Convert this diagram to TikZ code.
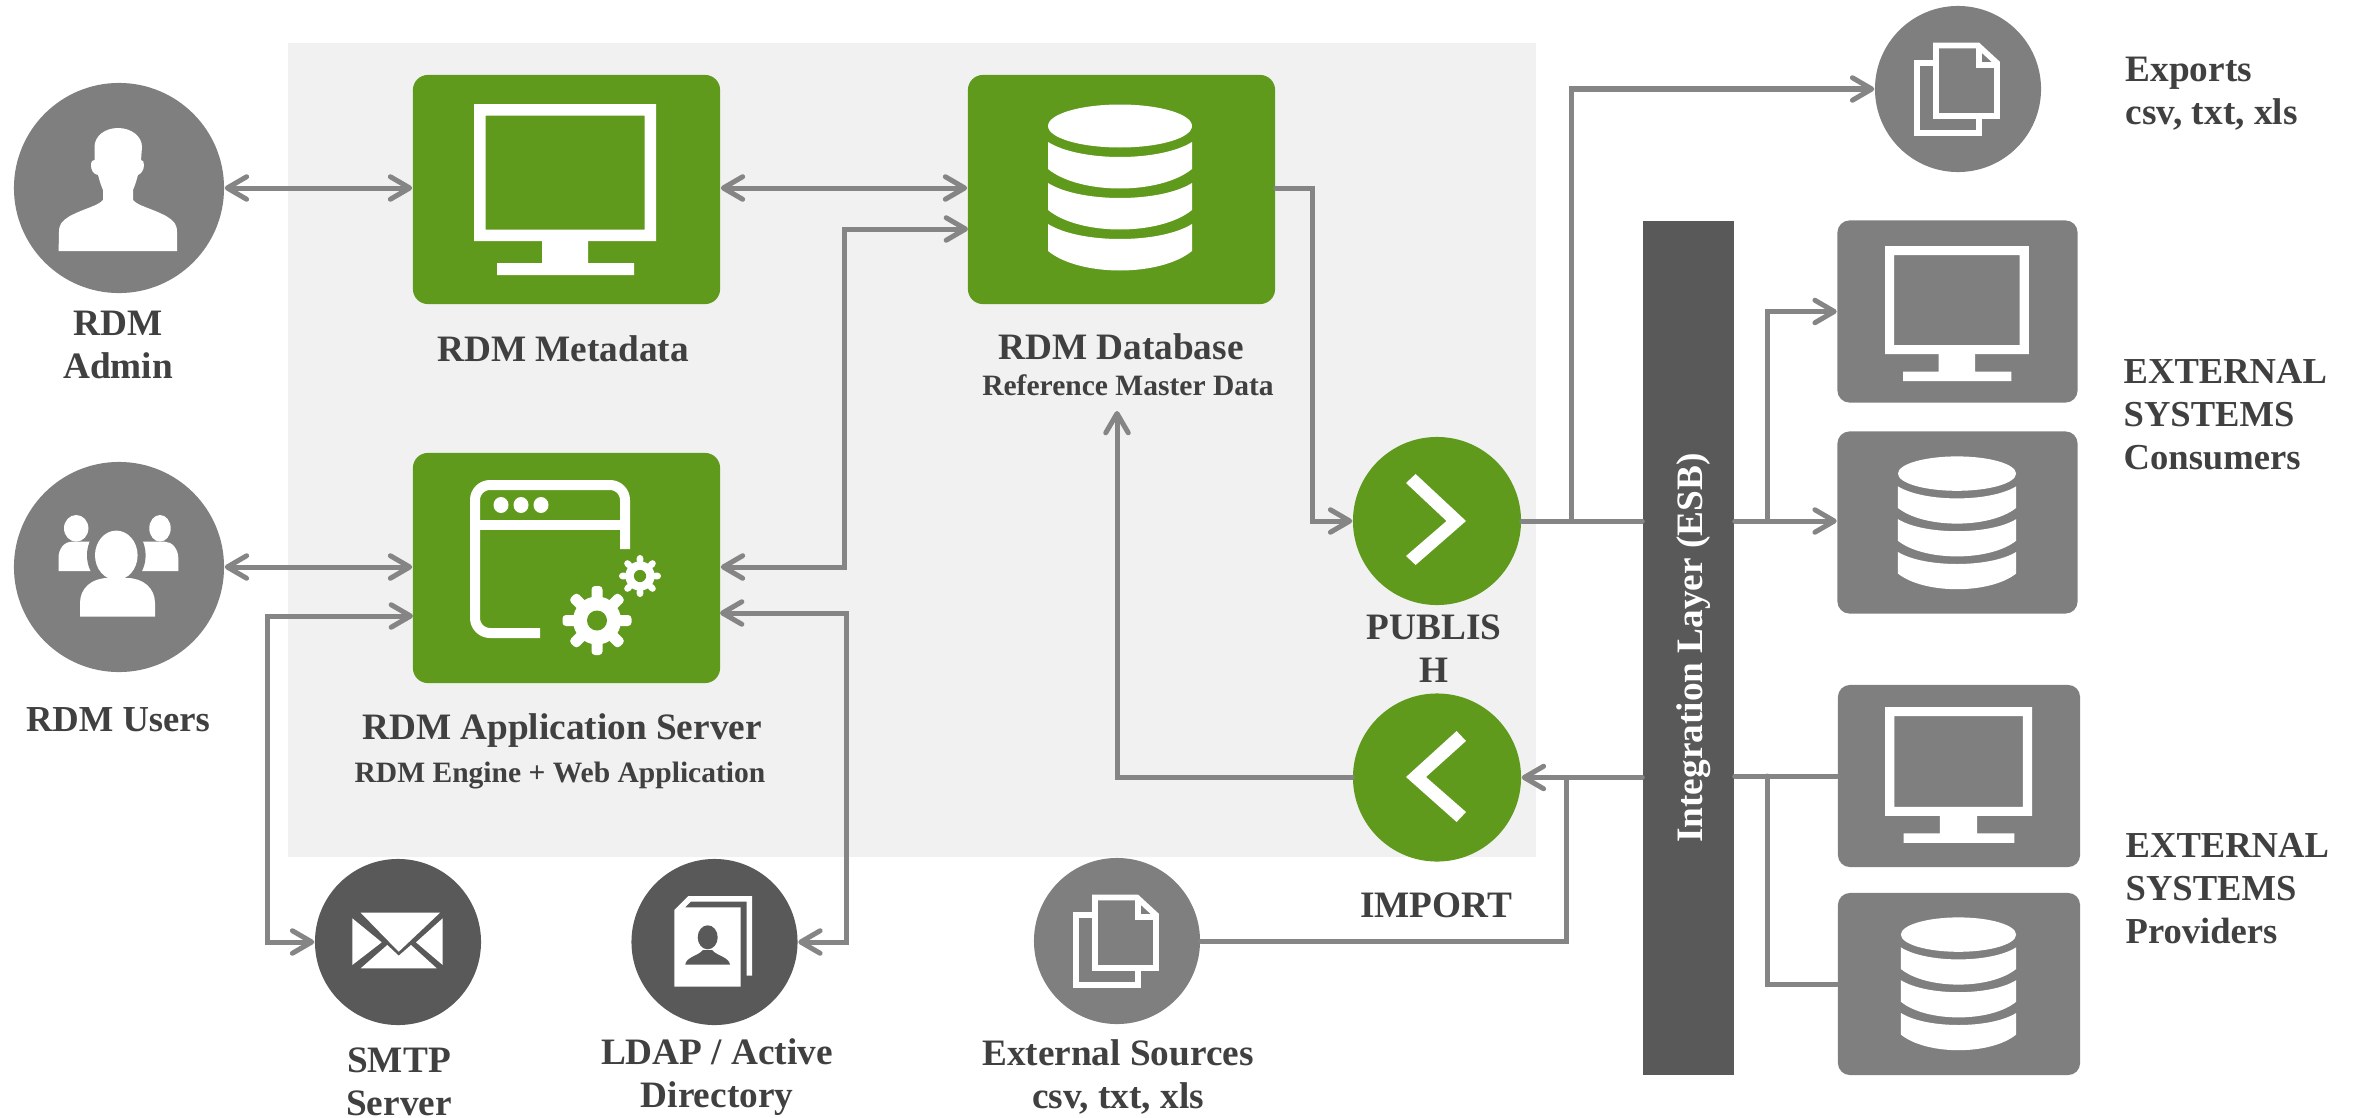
\documentclass[tikz,border=0pt]{standalone}
\usepackage{fontspec}
\usepackage{tikz}
\usetikzlibrary{arrows.meta}
\setmainfont{Liberation Serif}
\definecolor{rdmgreen}{HTML}{5F9A1C}
\definecolor{midgrey}{HTML}{7F7F7F}
\definecolor{linegrey}{HTML}{858585}
\definecolor{darkgrey}{HTML}{595959}
\definecolor{panelgrey}{HTML}{F1F1F1}
\definecolor{textgrey}{HTML}{404040}

\newcommand{\dbicon}[4]{\begin{scope}[shift={(#1,#2)},xscale=#3,yscale=#4]
	\fill[white] (0,22) ellipse (72 and 21.5);
	\foreach \Y in {38,79,120}
	{\fill[white] (-72,\Y) .. controls (-40,\Y+20) and (40,\Y+20) .. (72,\Y) -- (72,\Y+27)
		.. controls (40,\Y+53) and (-40,\Y+53) .. (-72,\Y+27) -- cycle;}
	\end{scope}}
\newcommand{\monicon}[4]{\begin{scope}[shift={(#1,#2)},xscale=#3,yscale=#4]
	\fill[white,even odd rule] (0,0) rectangle (182,137) (11.5,11.5) rectangle (170.5,125.5);
	\fill[white] (68,137) rectangle (114,160) (23,159) rectangle (160,171);
	\end{scope}}
\newcommand{\docicon}[3]{\begin{scope}[shift={(#1,#2)},line cap=butt]
	\draw[white,line width=.06cm] (-40.7,-26) rectangle (20.7,44);
	\draw[white,fill=#3,line width=.057cm] (-22,-43.5) -- (20,-43.5) -- (39,-26) -- (39,27) -- (-22,27) -- cycle;
	\draw[white,line width=.057cm] (20.7,-43.5) -- (20.7,-24) -- (39,-24);
	\end{scope}}
\newcommand{\gearicon}[3]{\begin{scope}[shift={(#1,#2)},scale=#3]
	\fill[white] (0,0) circle (24);
	\foreach \A in {0,45,...,315}
	{\fill[white,rotate=\A,rounded corners=1pt] (-5.5,-34.5) rectangle (5.5,-20);}
	\fill[rdmgreen] (0,0) circle (10);
	\end{scope}}

\begin{document}
\begin{tikzpicture}[x=0.01cm,y=-0.01cm,line cap=round,
	greenbox/.style={rectangle,fill=rdmgreen,rounded corners=.15cm,inner sep=0,minimum width=3.07cm,minimum height=2.29cm},
	greybox/.style={rectangle,fill=midgrey,rounded corners=.12cm,inner sep=0,minimum width=2.4cm,minimum height=1.82cm},
	roundnode/.style={circle,fill=midgrey,inner sep=0,minimum size=1.66cm},
	txt/.style={font=\bfseries\fontsize{10.6}{12.2}\selectfont,text=textgrey,align=center,inner sep=0,anchor=base},
	subtxt/.style={txt,font=\bfseries\fontsize{8.4}{10}\selectfont},
	sidetxt/.style={txt,font=\bfseries\fontsize{10.4}{12.2}\selectfont,align=left,anchor=base west},
	plainline/.style={draw=linegrey,line width=.05cm},
	conn/.style={plainline,-{Straight Barb[length=5.5pt,width=6.4pt,round]}},
	biconn/.style={plainline,{Straight Barb[length=5.5pt,width=6.4pt,round]}-{Straight Barb[length=5.5pt,width=6.4pt,round]}}]
	\useasboundingbox (0,0) rectangle (2354,1118);
	\fill[panelgrey] (288,43) rectangle (1536,857);

	\node[roundnode,minimum size=2.1cm] (admin) at (119,188) {};
	\node[roundnode,minimum size=2.1cm] (users) at (119,567) {};
	\node[greenbox] (meta) at (566.5,189.5) {};
	\node[greenbox] (db) at (1121.5,189.5) {};
	\node[greenbox,minimum height=2.3cm] (app) at (566.5,568) {};
	\node[roundnode,fill=darkgrey] (smtp) at (398,942) {};
	\node[roundnode,fill=darkgrey] (ldap) at (714.5,942) {};
	\node[roundnode] (extsrc) at (1117,941) {};
	\node[roundnode] (exports) at (1958,89) {};
	\node[roundnode,fill=rdmgreen,minimum size=1.68cm] (pub) at (1437,521) {};
	\node[roundnode,fill=rdmgreen,minimum size=1.68cm] (imp) at (1437,777.5) {};
	\node[rectangle,fill=darkgrey,inner sep=0,minimum width=.91cm,minimum height=8.54cm] (esb) at (1688.5,648) {};
	\node[greybox] (cmon) at (1957.5,311.5) {};
	\node[greybox] (cdb) at (1957.5,522.5) {};
	\node[greybox,minimum width=2.42cm] (pmon) at (1959,776) {};
	\node[greybox,minimum width=2.42cm] (pdb) at (1959,984) {};

	\coordinate (dbtwo) at (968,229);
	\coordinate (appleft) at (413,616);
	\coordinate (appright) at (720,613);
	\coordinate (busa) at (844,229);
	\coordinate (busb) at (267,942);
	\coordinate (busc) at (846,942);
	\coordinate (busd) at (1312,521);
	\coordinate (buse) at (1571,521);
	\coordinate (busf) at (1767,521);
	\coordinate (busg) at (1566,777.5);
	\coordinate (bush) at (1767,776);
	\coordinate (dbtip) at (1117,411);

	\draw[biconn] (admin.east) -- (meta.west |- admin.east);
	\draw[biconn] (meta.east |- admin.east) -- (db.west |- admin.east);
	\draw[biconn] (users.east) -- (app.west |- users.east);
	\draw[biconn] (app.east |- users.east) -| (busa) -- (dbtwo);
	\draw[biconn] (appleft) -| (busb) -- (smtp.west);
	\draw[biconn] (appright) -| (busc) -- (ldap.east);
	\draw[conn] (db.east |- admin.east) -| (busd) -- (pub.west);
	\draw[plainline] (pub.east) -- (esb.west |- pub.east);
	\draw[conn] (buse) |- (exports.west);
	\draw[conn] (esb.east |- pub.east) -- (cdb.west |- pub.east);
	\draw[conn] (busf) |- (cmon.west);
	\draw[conn] (esb.west |- imp.east) -- (imp.east);
	\draw[plainline] (extsrc.east) -| (busg);
	\draw[conn] (imp.west) -| (dbtip);
	\draw[plainline] (pmon.west) -- (esb.east |- pmon.west);
	\draw[plainline] (bush) |- (pdb.west);

	\fill[white] (58.6,251) -- (59,232) .. controls (59,224) and (62,221) .. (70,216) .. controls (85,208) and (98,206) .. (103,200) -- (103,190) .. controls (100,183) and (99,178) .. (98,175) .. controls (93,174) and (91,170) .. (91,165) .. controls (91,161) and (93,160) .. (94.5,160) -- (94.5,147) .. controls (94.5,136) and (105,128) .. (118,128) .. controls (131,128) and (142,136) .. (142,147) -- (141,160) .. controls (143,160) and (144,162) .. (144,165) .. controls (144,170) and (141,174) .. (138,175) .. controls (137,178) and (136,183) .. (133,190) -- (133,200) .. controls (138,206) and (151,208) .. (166,216) .. controls (174,221) and (177,224) .. (177,232) -- (177,251) -- cycle;

	\fill[white] (58.5,571) -- (58.5,558) .. controls (58.5,549) and (64,541.7) .. (72,541.7) -- (95,541.7) -- (95,571) -- cycle;
	\fill[white] (178.3,571) -- (178.3,558) .. controls (178.3,549) and (172,541.7) .. (165,541.7) -- (135,541.7) -- (135,571) -- cycle;
	\fill[white] (76.2,528.3) ellipse (12.2 and 13.3);
	\fill[white] (160,528.3) ellipse (10.7 and 13.3);
	\fill[midgrey] (116.3,555.3) ellipse (29.3 and 32.7);
	\fill[white] (116.3,555.3) ellipse (21.3 and 24.7);
	\fill[white] (80,616.7) -- (80,603) .. controls (80,588) and (92,578) .. (108,578) -- (127,578) .. controls (143,578) and (155,588) .. (155,603) -- (155,616.7) -- cycle;

	\monicon{474}{104}{1}{1}
	\dbicon{1120}{104}{1}{1}

	\draw[white,line width=.1cm,rounded corners=.15cm,line cap=butt] (625,549) -- (625,485) -- (475,485) -- (475,633) -- (540,633);
	\draw[white,line width=.1cm,line cap=butt] (475,525) -- (625,525);
	\foreach \X in {501,521,541}
	{\fill[white] (\X,505) ellipse (7.5 and 8);}
	\gearicon{597}{620.5}{1}
	\gearicon{640}{576}{.61}

	\fill[white] (1415.6,474) -- (1466,521) -- (1415.6,565) -- (1406,556) -- (1446.5,521) -- (1406,483) -- cycle;
	\fill[white] (1456.6,731) -- (1406,777) -- (1456.6,822) -- (1466,812) -- (1426,777) -- (1466,741) -- cycle;

	\fill[white] (360.7,912.7) -- (440,912.7) -- (398.7,951.7) -- cycle;
	\fill[white] (352.3,918.3) -- (381.7,942.3) -- (352.3,965) -- cycle;
	\fill[white] (442.7,918.3) -- (416,942.3) -- (442.7,965) -- cycle;
	\fill[white] (360.7,968.3) -- (387.3,945) -- (398.7,955.7) -- (411,945) -- (436.7,968.3) -- cycle;

	\fill[white] (674.3,986.7) -- (674.3,910) -- (688.3,896) -- (752,896) -- (752,975.7) -- (746.7,975.7) -- (746.7,901.7) -- (690.7,901.7) -- (685,907.3) -- (740.7,907.3) -- (740.7,986.7) -- cycle;
	\fill[darkgrey] (707.7,937.3) ellipse (10 and 12);
	\fill[darkgrey] (685.3,964.7) .. controls (686,957) and (698,956) .. (703,950) -- (712,950) .. controls (717,956) and (729,957) .. (730,964.7) -- cycle;

	\docicon{1958}{89}{midgrey}
	\docicon{1117}{941}{midgrey}
	\monicon{1885}{246}{.79}{.79}
	\dbicon{1957}{456}{.82}{.8}
	\monicon{1885}{707}{.808}{.795}
	\dbicon{1958.5}{917}{.8}{.8}

	\node[font=\bfseries\fontsize{10.6}{12}\selectfont,text=white,rotate=90,inner sep=0] (esblabel) at ([xshift=.05cm]esb.center) {Integration Layer (ESB)};

	\node[txt] (adminlabel) at (118,378) {RDM\\Admin};
	\node[txt] (metalabel) at (563,361) {RDM Metadata};
	\node[txt] (dblabel) at (1121,359) {RDM Database};
	\node[subtxt] (dbsub) at (1128,395) {Reference Master Data};
	\node[txt,font=\bfseries\fontsize{10.4}{12.2}\selectfont] (userslabel) at (118,731) {RDM Users};
	\node[txt] (applabel) at (562,739) {RDM Application Server};
	\node[subtxt] (appsub) at (560,782) {RDM Engine + Web Application};
	\node[txt] (smtplabel) at (399,1115) {SMTP\\Server};
	\node[txt] (ldaplabel) at (717,1107) {LDAP / Active\\Directory};
	\node[txt] (extlabel) at (1118,1108) {External Sources\\csv, txt, xls};
	\node[txt] (publabel) at (1434,682) {PUBLIS\\H};
	\node[txt] (implabel) at (1436,917) {IMPORT};
	\node[txt,align=left,anchor=base west] (explabel) at (2125,124.5) {Exports\\csv, txt, xls};
	\node[sidetxt] (conlabel) at (2123,469.5) {EXTERNAL\\SYSTEMS\\Consumers};
	\node[sidetxt] (prolabel) at (2125,943) {EXTERNAL\\SYSTEMS\\Providers};
\end{tikzpicture}
\end{document}
